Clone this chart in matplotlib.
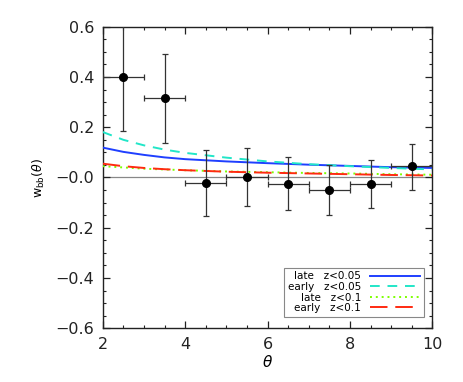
import numpy as np
import matplotlib
matplotlib.use("Agg")
import matplotlib.pyplot as plt
from matplotlib.ticker import MultipleLocator, FixedLocator, FixedFormatter

# data points
theta = [2.5, 3.5, 4.5, 5.5, 6.5, 7.5, 8.5, 9.5]
w_obs = [0.400, 0.315, -0.020, 0.000, -0.024, -0.049, -0.024, 0.044]
err_up = [0.22, 0.175, 0.131, 0.119, 0.105, 0.100, 0.095, 0.091]
err_lo = [0.216, 0.178, 0.132, 0.115, 0.107, 0.099, 0.096, 0.093]
xerr = [0.5] * 8

# model curves
theta_m = [2, 2.5, 3, 3.5, 4, 5, 6, 7, 8, 9, 10]
late_005 = [0.119, 0.102, 0.090, 0.080, 0.073, 0.064, 0.057, 0.051, 0.046, 0.041, 0.038]
early_005 = [0.181, 0.150, 0.128, 0.111, 0.098, 0.079, 0.064, 0.053, 0.045, 0.038, 0.032]
late_01 = [0.045, 0.040, 0.035, 0.032, 0.029, 0.024, 0.021, 0.018, 0.016, 0.013, 0.011]
early_01 = [0.055, 0.045, 0.038, 0.033, 0.029, 0.023, 0.019, 0.016, 0.013, 0.010, 0.008]

yticks = [-0.6, -0.4, -0.2, 0.0, 0.2, 0.4, 0.6]
ytick_labels = ["\u22120.6", "\u22120.4", "\u22120.2", "\u22120.0", "0.2", "0.4", "0.6"]
xticks = [2, 4, 6, 8, 10]
xtick_labels = ["2", "4", "6", "8", "10"]
labels = ["late   z<0.05", "early   z<0.05", "late   z<0.1", "early   z<0.1"]

plt.rcParams['font.family'] = ['DejaVu Sans']
fig = plt.figure(figsize=(4.63, 3.82), dpi=100)
ax = fig.add_axes([0.2218, 0.1406, 0.712, 0.7895])

ax.axhline(0, color='#888888', lw=0.9, zorder=1)

ax.plot(theta_m, late_005, color='#1f3fff', lw=1.4, ls='-', label=labels[0], zorder=3)
ax.plot(theta_m, early_005, color='#22e6c8', lw=1.4, ls=(0, (5, 4)), label=labels[1], zorder=3)
ax.plot(theta_m, late_01, color='#7cff00', lw=1.4, ls=(0, (1, 2)), label=labels[2], zorder=3)
ax.plot(theta_m, early_01, color='#ff2a10', lw=1.4, ls=(0, (9, 4)), label=labels[3], zorder=3)

ax.errorbar(theta, w_obs, yerr=[err_lo, err_up], xerr=xerr, fmt='o', color='black',
            ecolor='#333333', elinewidth=0.9, capsize=2, capthick=0.9,
            markersize=5.5, zorder=4)

ax.set_xlim(2, 10)
ax.set_ylim(-0.6, 0.6)
ax.xaxis.set_major_locator(FixedLocator(xticks))
ax.xaxis.set_major_formatter(FixedFormatter(xtick_labels))
ax.xaxis.set_minor_locator(MultipleLocator(0.5))
ax.yaxis.set_major_locator(FixedLocator(yticks))
ax.yaxis.set_major_formatter(FixedFormatter(ytick_labels))
ax.yaxis.set_minor_locator(MultipleLocator(0.05))
ax.tick_params(which='both', direction='in', top=True, right=True, colors='#222222', labelsize=11.5)
ax.tick_params(which='major', length=5, width=0.9, pad=6)
ax.tick_params(which='minor', length=2.5, width=0.8)
for s in ax.spines.values():
    s.set_linewidth(1.0)
    s.set_color('#222222')

ax.set_xlabel(r'$\theta$', fontsize=11, labelpad=2)
ax.set_ylabel(r'w$_{\rm bb}$($\theta$)', fontsize=9, labelpad=6)

leg = ax.legend(loc='lower right', bbox_to_anchor=(0.975, 0.0385), borderaxespad=0,
                markerfirst=False, fontsize=7.5, handlelength=4.8,
                fancybox=False, edgecolor='#888888', framealpha=1,
                labelspacing=0.05, handletextpad=0.9, borderpad=0.35)
leg.get_frame().set_linewidth(0.8)

fig.savefig('out.png', dpi=100)
